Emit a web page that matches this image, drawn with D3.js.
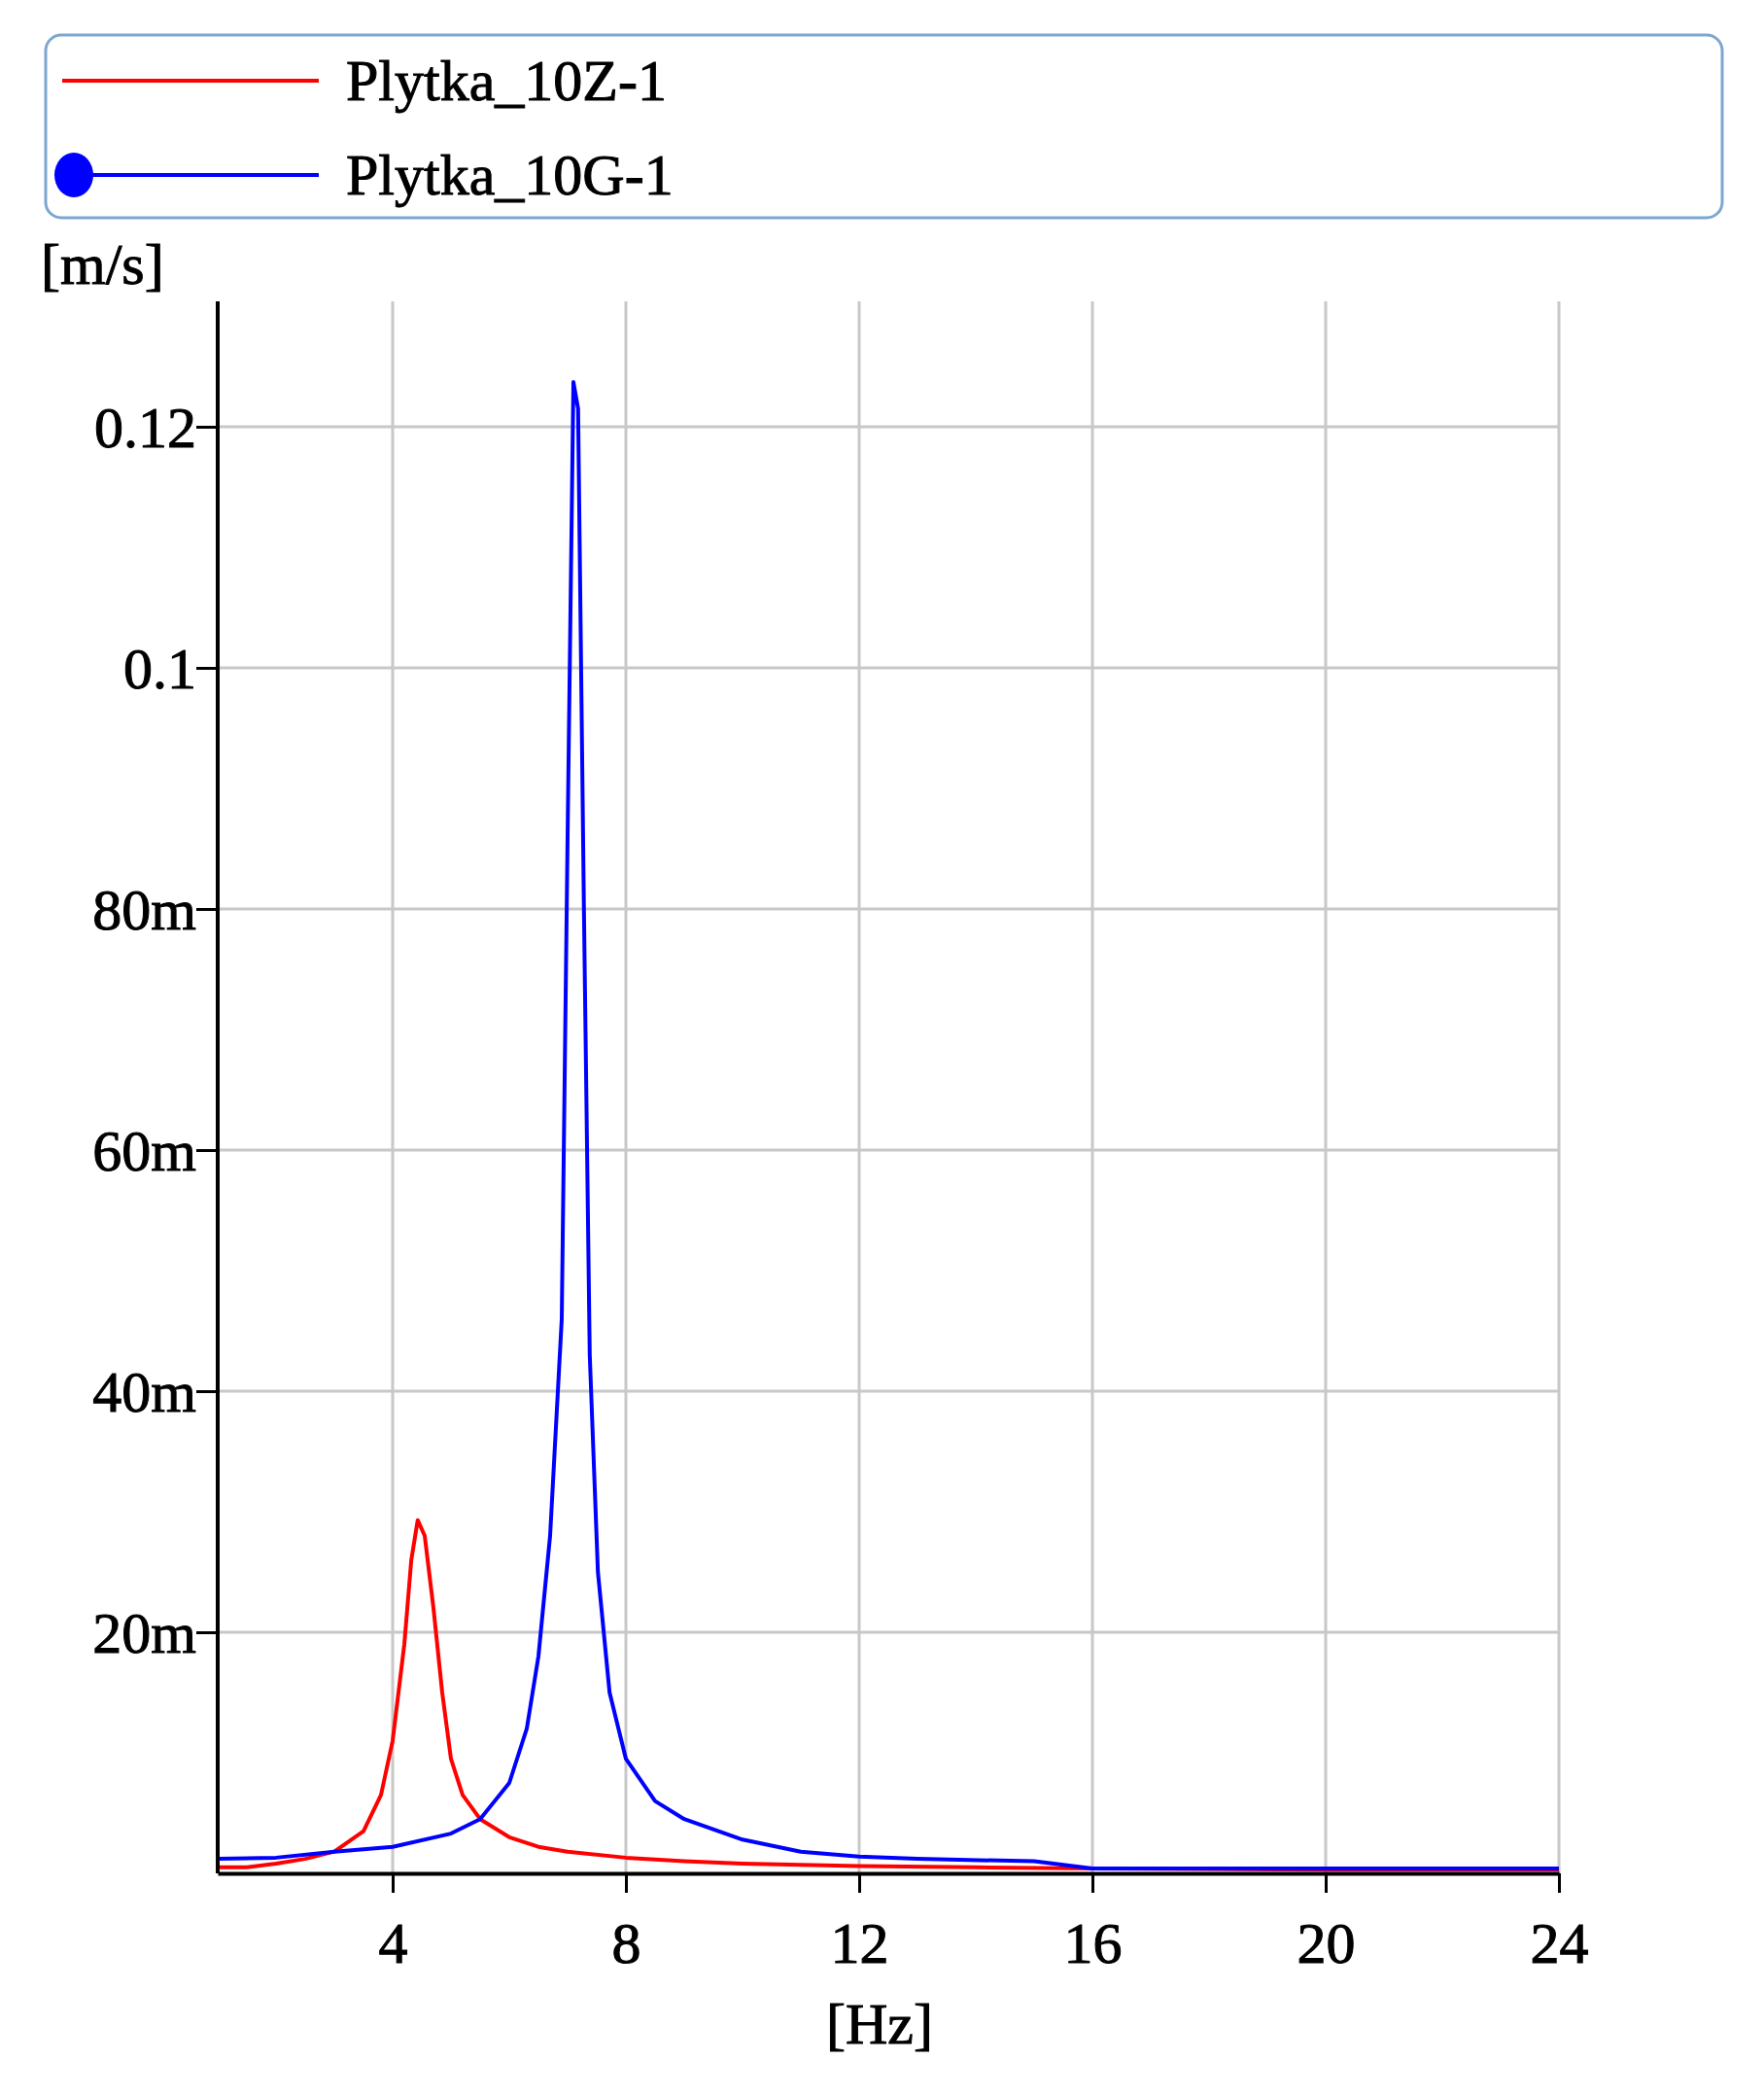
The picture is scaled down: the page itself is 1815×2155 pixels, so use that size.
<!DOCTYPE html>
<html>
<head>
<meta charset="utf-8">
<script src="https://cdn.jsdelivr.net/npm/d3@7"></script>
<style>
  body { margin: 0; background: #fff; }
  text { font-family: "Liberation Serif", "Times New Roman", serif; fill: #000; stroke: #000; stroke-width: 1; }
</style>
</head>
<body>
<script>
(function() {
  'use strict';

  const seriesNames = ['Plytka_10Z-1', 'Plytka_10G-1'];
  const seriesColors = ['#ff0000', '#0000ff'];

  // frequency [Hz] and velocity [m/s]
  const freqZ = [1.0, 1.5, 2.0, 2.5, 3.0, 3.5, 3.8, 4.0, 4.2, 4.32, 4.43, 4.55, 4.7, 4.85, 5.0, 5.2, 5.5, 6.0, 6.5, 7.0, 8.0, 9.0, 10.0, 12.0, 14.0, 16.0, 20.0, 24.0];
  const valZ = [0.0005, 0.0005, 0.0008, 0.0012, 0.0018, 0.0035, 0.0065, 0.011, 0.019, 0.026, 0.0293, 0.028, 0.022, 0.015, 0.0095, 0.0065, 0.0045, 0.003, 0.0022, 0.0018, 0.0013, 0.001, 0.0008, 0.0006, 0.0005, 0.0004, 0.0003, 0.0003];

  const freqG = [1.0, 2.0, 3.0, 4.0, 5.0, 5.5, 6.0, 6.3, 6.5, 6.7, 6.9, 7.0, 7.1, 7.18, 7.28, 7.38, 7.52, 7.72, 8.0, 8.5, 9.0, 10.0, 11.0, 12.0, 13.0, 15.0, 16.0, 20.0, 24.0];
  const valG = [0.0012, 0.0013, 0.0018, 0.0022, 0.0033, 0.0045, 0.0075, 0.012, 0.018, 0.028, 0.046, 0.086, 0.1237, 0.1215, 0.08, 0.043, 0.025, 0.015, 0.0095, 0.006, 0.0045, 0.0028, 0.0018, 0.0014, 0.0012, 0.001, 0.0004, 0.0004, 0.0004];

  const xTicks = [4, 8, 12, 16, 20, 24];
  const yTicks = [0.02, 0.04, 0.06, 0.08, 0.1, 0.12];
  const yTickLabels = ['20m', '40m', '60m', '80m', '0.1', '0.12'];

  const w = 1815;
  const h = 2155;
  const left = 224, right = 1604, top = 310, bottom = 1927;

  const svg = d3.select('body').append('svg')
    .attr('width', w)
    .attr('height', h);

  const xScale = d3.scaleLinear().domain([1, 24]).range([left, right]);
  const yScale = d3.scaleLinear().domain([0, 0.1304]).range([bottom, top]);

  // grid
  svg.append('g').selectAll('line').data(xTicks).join('line')
    .attr('x1', d => xScale(d)).attr('x2', d => xScale(d))
    .attr('y1', top).attr('y2', bottom)
    .attr('stroke', '#c8c8c8').attr('stroke-width', 3);
  svg.append('g').selectAll('line').data(yTicks).join('line')
    .attr('x1', left).attr('x2', right)
    .attr('y1', d => yScale(d)).attr('y2', d => yScale(d))
    .attr('stroke', '#c8c8c8').attr('stroke-width', 3);

  // series
  const line = d3.line().x(d => xScale(d[0])).y(d => yScale(d[1]));
  const series = [d3.zip(freqZ, valZ), d3.zip(freqG, valG)];
  series.forEach((s, i) => {
    svg.append('path').datum(s)
      .attr('d', line)
      .attr('fill', 'none')
      .attr('stroke', seriesColors[i])
      .attr('stroke-width', 4)
      .attr('stroke-linejoin', 'round');
  });

  // axes
  const xAxis = d3.axisBottom(xScale).tickValues(xTicks).tickSize(20).tickSizeOuter(0);
  const gx = svg.append('g')
    .attr('transform', 'translate(0,' + bottom + ')')
    .call(xAxis);
  gx.select('.domain').attr('stroke', '#000').attr('stroke-width', 4);
  gx.selectAll('.tick line').attr('stroke-width', 3);
  gx.selectAll('.tick text').attr('font-size', 60).attr('dy', 0).attr('y', 92)
    .attr('font-family', '"Liberation Serif", serif');

  const yAxis = d3.axisLeft(yScale).tickValues(yTicks)
    .tickFormat((d, i) => yTickLabels[i]).tickSize(22).tickSizeOuter(0);
  const gy = svg.append('g')
    .attr('transform', 'translate(' + left + ',0)')
    .call(yAxis);
  gy.select('.domain').attr('stroke', '#000').attr('stroke-width', 4)
    .attr('d', 'M0,' + top + 'V' + bottom);
  gy.selectAll('.tick line').attr('stroke-width', 3);
  gy.selectAll('.tick text').attr('font-size', 60).attr('x', -22).attr('dy', '0.35em')
    .attr('font-family', '"Liberation Serif", serif');

  // axis units
  svg.append('text').attr('x', 42).attr('y', 292).attr('font-size', 60).text('[m/s]');
  svg.append('text').attr('x', 905).attr('y', 2102)
    .attr('text-anchor', 'middle').attr('font-size', 60).text('[Hz]');

  // legend
  svg.append('rect')
    .attr('x', 47).attr('y', 36).attr('width', 1725).attr('height', 188)
    .attr('rx', 16).attr('fill', '#fff')
    .attr('stroke', '#7da7cf').attr('stroke-width', 3);
  const legendY = [83, 180];
  seriesNames.forEach((name, i) => {
    svg.append('line')
      .attr('x1', 64).attr('x2', 328)
      .attr('y1', legendY[i]).attr('y2', legendY[i])
      .attr('stroke', seriesColors[i]).attr('stroke-width', 4);
    if (i === 1) {
      svg.append('ellipse').attr('cx', 76).attr('cy', legendY[i])
        .attr('rx', 20).attr('ry', 23).attr('fill', seriesColors[i]);
    }
    svg.append('text').attr('x', 356).attr('y', legendY[i] + 20)
      .attr('font-size', 60).text(name);
  });
}());
</script>
</body>
</html>
